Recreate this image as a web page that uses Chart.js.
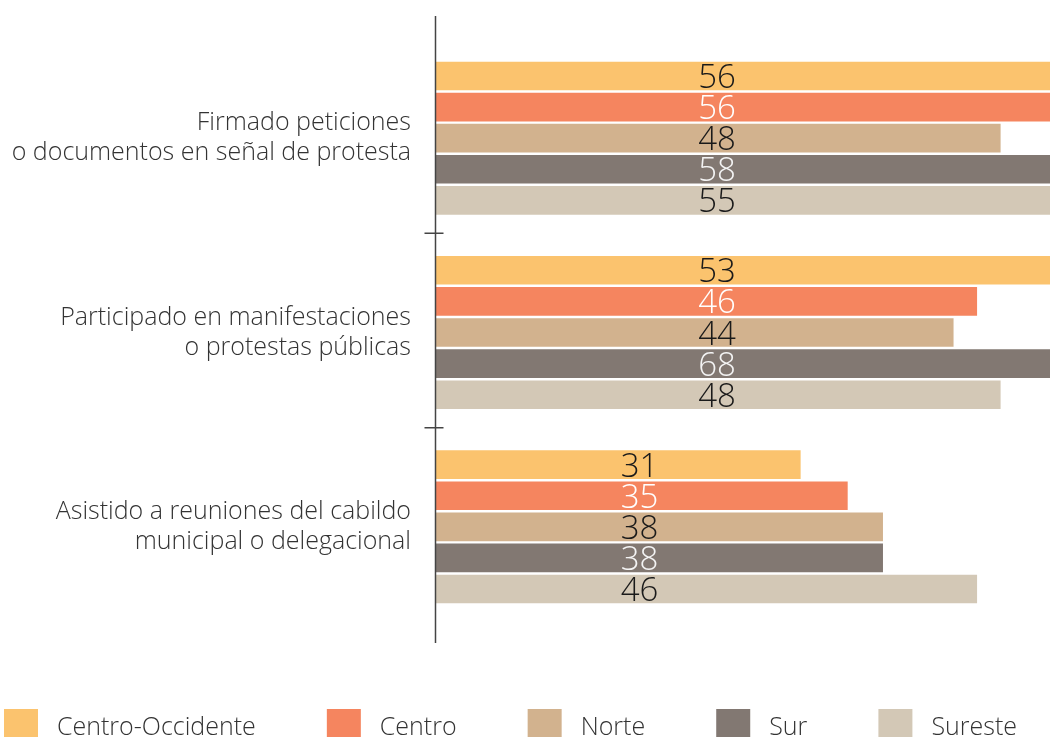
<!DOCTYPE html>
<html>
<head>
<meta charset="utf-8">
<script src="https://cdn.jsdelivr.net/npm/chart.js@4.4.0/dist/chart.umd.min.js"></script>
<style>
html, body { margin: 0; padding: 0; background: #fff; }
#wrap { width: 1050px; height: 737px; }
</style>
</head>
<body>
<div id="wrap"><canvas id="chart-participacion"></canvas></div>
<script>
var categorias = [
  ['Firmado peticiones', 'o documentos en señal de protesta'],
  ['Participado en manifestaciones', 'o protestas públicas'],
  ['Asistido a reuniones del cabildo', 'municipal o delegacional']
];
var regiones = ['Centro-Occidente', 'Centro', 'Norte', 'Sur', 'Sureste'];
var centroOccidente = [56, 53, 31];
var centro = [56, 46, 35];
var norte = [48, 44, 38];
var sur = [58, 68, 38];
var sureste = [55, 48, 46];

var colores = ['#FBC36E', '#F5855F', '#D2B28E', '#827872', '#D3C8B6'];
var coloresTexto = ['#1a1a1a', '#ffffff', '#1a1a1a', '#f4f4f4', '#1a1a1a'];
var fuente = "'Open Sans', sans-serif";

// etiquetas de valor, centradas en una posicion fija por grupo
var valueLabels = {
  id: 'valueLabels',
  afterDatasetsDraw: function (chart, args, opts) {
    var ctx = chart.ctx;
    var xs = chart.scales.x;
    ctx.save();
    ctx.font = '300 33px ' + fuente;
    ctx.textAlign = 'center';
    ctx.textBaseline = 'alphabetic';
    chart.data.datasets.forEach(function (ds, i) {
      var meta = chart.getDatasetMeta(i);
      meta.data.forEach(function (bar, j) {
        ctx.fillStyle = coloresTexto[i];
        ctx.fillText(ds.data[j], xs.getPixelForValue(opts.centers[j]), bar.y + 12);
      });
    });
    ctx.restore();
  }
};

// eje vertical con marcas entre categorias
var axisLine = {
  id: 'axisLine',
  afterDatasetsDraw: function (chart) {
    var ctx = chart.ctx;
    var ys = chart.scales.y;
    var x = chart.chartArea.left - 0.5;
    ctx.save();
    ctx.strokeStyle = '#444';
    ctx.lineWidth = 1.5;
    ctx.beginPath();
    ctx.moveTo(x, chart.chartArea.top - 25);
    ctx.lineTo(x, chart.chartArea.bottom + 19);
    for (var k = 1; k < categorias.length; k++) {
      var y = (ys.getPixelForValue(k - 1) + ys.getPixelForValue(k)) / 2 - 2;
      ctx.moveTo(x - 11, y);
      ctx.lineTo(x + 8, y);
    }
    ctx.stroke();
    ctx.restore();
  }
};

// leyenda propia repartida a lo ancho
var legendRow = {
  id: 'legendRow',
  afterDraw: function (chart) {
    var ctx = chart.ctx;
    ctx.save();
    ctx.font = '300 25px ' + fuente;
    var widths = regiones.map(function (r) { return 34 + 19 + ctx.measureText(r).width; });
    var total = widths.reduce(function (a, b) { return a + b; }, 0);
    var x0 = 4, x1 = 1017;
    var gap = (x1 - x0 - total) / (regiones.length - 1);
    var x = x0;
    regiones.forEach(function (r, i) {
      ctx.fillStyle = colores[i];
      ctx.fillRect(x, 709, 34, 28);
      ctx.fillStyle = '#333';
      ctx.textBaseline = 'alphabetic';
      ctx.fillText(r, x + 34 + 19, 735);
      x += widths[i] + gap;
    });
    ctx.restore();
  }
};

var ctp = document.getElementById('chart-participacion');
var chartParticipacion = new Chart(ctp, {
  type: 'bar',
  data: {
    labels: categorias,
    datasets: [
      { label: regiones[0], data: centroOccidente, backgroundColor: colores[0] },
      { label: regiones[1], data: centro, backgroundColor: colores[1] },
      { label: regiones[2], data: norte, backgroundColor: colores[2] },
      { label: regiones[3], data: sur, backgroundColor: colores[3] },
      { label: regiones[4], data: sureste, backgroundColor: colores[4] }
    ]
  },
  options: {
    indexAxis: 'y',
    responsive: true,
    maintainAspectRatio: false,
    animation: false,
    layout: {
      padding: { top: 41, bottom: 113, right: 0, left: 0 }
    },
    datasets: {
      bar: {
        categoryPercentage: 0.8,
        barPercentage: 0.92,
        borderWidth: 0
      }
    },
    plugins: {
      legend: { display: false },
      tooltip: { enabled: false },
      valueLabels: { centers: [23.9, 23.9, 17.3] }
    },
    scales: {
      x: {
        display: false,
        min: 0,
        max: 52.2
      },
      y: {
        grid: { display: false, drawTicks: false },
        border: { display: false },
        ticks: {
          color: '#333',
          padding: 25,
          font: { family: fuente, size: 25, weight: '300', lineHeight: 1.2 }
        },
        afterFit: function (scale) {
          scale.width = 436;
          scale.paddingTop = 0;
          scale.paddingBottom = 0;
        }
      }
    }
  },
  plugins: [valueLabels, axisLine, legendRow]
});
</script>
</body>
</html>
